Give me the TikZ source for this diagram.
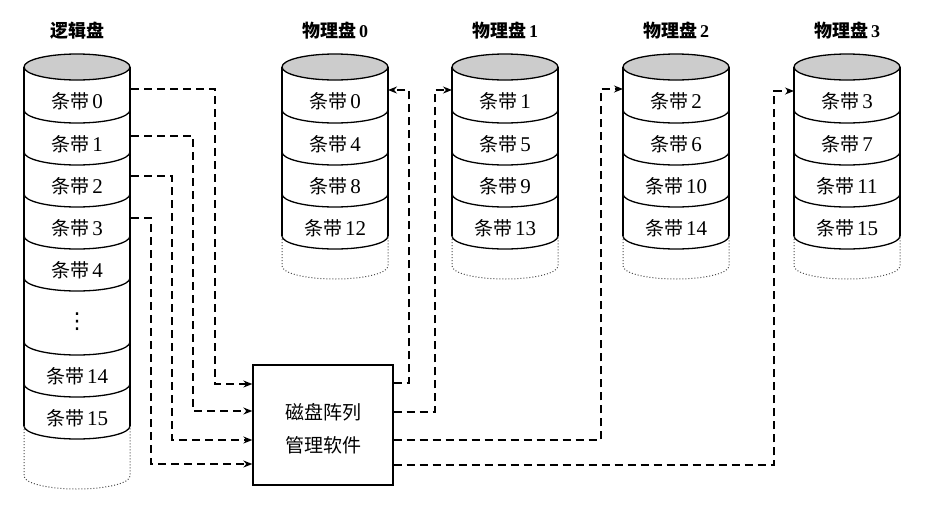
\documentclass[tikz,border=0pt]{standalone}
\usepackage{fontspec}
\setmainfont{Liberation Serif}
\newfontfamily\cjk{Noto Sans CJK SC}
\newfontfamily\dejavu{DejaVu Sans}
\usetikzlibrary{arrows.meta}
\tikzset{
  cylline/.style={line width=1.3pt},
  topfill/.style={fill=black!20},
  dotline/.style={line width=1pt, dotted, black!70},
  dl/.style={line width=1.4pt, dash pattern=on 8pt off 5pt},
  arr/.style={-{Stealth[length=9pt,width=7pt]}},
  lbl/.style={font=\fontsize{19}{21}\selectfont, inner sep=0pt},
  ttl/.style={font=\fontsize{18}{20}\selectfont\bfseries, inner sep=0pt},
}
\newcommand\sd[1]{{\cjk 条带}\hspace{3pt}{\fontsize{21}{21}\selectfont #1}}
\newcommand\drawcyl[4]{%
  \draw[cylline, topfill] (#1,67) ellipse [x radius=53pt, y radius=13pt];
  \draw[cylline] (#1-53,67) -- (#1-53,#2);
  \draw[cylline] (#1+53,67) -- (#1+53,#2);
  \foreach \e in {#3} {\draw[cylline] (#1-53,\e) .. controls (#1-53,\e+7.18) and (#1-29.27,\e+13) .. (#1,\e+13) .. controls (#1+29.27,\e+13) and (#1+53,\e+7.18) .. (#1+53,\e);}
  \draw[dotline] (#1-53,#2) -- (#1-53,#2+#4) .. controls (#1-53,#2+#4+7.18) and (#1-29.27,#2+#4+13) .. (#1,#2+#4+13) .. controls (#1+29.27,#2+#4+13) and (#1+53,#2+#4+7.18) .. (#1+53,#2+#4) -- (#1+53,#2);
}
\begin{document}
\begin{tikzpicture}[x=1pt,y=-1pt]
\useasboundingbox[fill=white] (0,0) rectangle (933,507);
% logical disk
\drawcyl{77}{426}{110,152,194,236,278,342,384,426}{50}
\node[ttl] (lt) at (77,31) {\cjk 逻辑盘};
\node[lbl] (l0) at (77,101) {\sd{0}};
\node[lbl] (l1) at (77,144) {\sd{1}};
\node[lbl] (l2) at (77,186) {\sd{2}};
\node[lbl] (l3) at (77,228) {\sd{3}};
\node[lbl] (l4) at (77,270) {\sd{4}};
\node[inner sep=0pt, font=\fontsize{22}{22}\selectfont\dejavu] (ld) at (77,322) {⋮};
\node[lbl] (l14) at (77,376) {\sd{14}};
\node[lbl] (l15) at (77,418) {\sd{15}};
% physical disks
\foreach \i/\cx in {0/335,1/505,2/676,3/847} {
  \drawcyl{\cx}{236}{110,152,194,236}{30}
  \node[ttl] (pt\i) at (\cx,31) {{\cjk 物理盘}\hspace{3pt}\i};
  \foreach \k/\y in {0/101,1/144,2/186,3/228} {
    \pgfmathtruncatemacro\n{4*\k+\i}
    \node[lbl] (p\i-\k) at (\cx,\y) {\sd{\n}};
  }
}
% controller box
\node[draw, cylline, minimum width=140pt, minimum height=120pt, inner sep=0pt] (box) at (323,425) {};
\node[lbl] (bt1) at (323,412) {\cjk 磁盘阵列};
\node[lbl] (bt2) at (323,445) {\cjk 管理软件};
% connector end points
\coordinate (a0) at (131,89);
\coordinate (a1) at (131,136);
\coordinate (a2) at (131,176);
\coordinate (a3) at (131,218);
\coordinate (d0) at (388,90);
\coordinate (d1) at (452,90);
\coordinate (d2) at (623,89);
\coordinate (d3) at (794,91);
% inputs
\draw[dl,arr] (a0) -- (215,89) -- (215,384) -- (box.west |- 0,384);
\draw[dl,arr] (a1) -- (193,136) -- (193,411) -- (box.west |- 0,411);
\draw[dl,arr] (a2) -- (172,176) -- (172,440) -- (box.west |- 0,440);
\draw[dl,arr] (a3) -- (151,218) -- (151,464) -- (box.west |- 0,464);
% outputs
\draw[dl,arr] (box.east |- 0,383) -- (409,383) -- (409,90) -- (d0);
\draw[dl,arr] (box.east |- 0,412) -- (435,412) -- (435,90) -- (d1);
\draw[dl,arr] (box.east |- 0,440) -- (601,440) -- (601,89) -- (d2);
\draw[dl,arr] (box.east |- 0,465) -- (774,465) -- (774,91) -- (d3);
\end{tikzpicture}
\end{document}
